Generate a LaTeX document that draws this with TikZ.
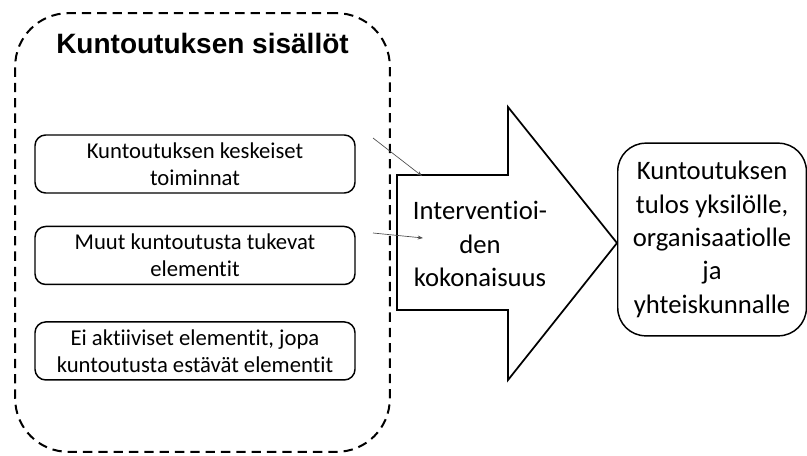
\documentclass[tikz,border=0pt]{standalone}
\usepackage{fontspec}
\setmainfont[Ligatures=NoCommon]{Carlito}
\newfontfamily\headfont{Liberation Sans}
\usetikzlibrary{arrows.meta, positioning}

\begin{document}
\begin{tikzpicture}[x=0.75pt, y=-0.75pt, node distance=24pt,
    frame/.style={draw, line width=1.5pt, dash pattern=on 7pt off 4.5pt, rounded corners=40pt, minimum width=281pt, minimum height=329pt},
    item/.style={draw, line width=1.1pt, rounded corners=8pt, minimum width=240pt, minimum height=43.5pt, align=center, inner sep=1pt, font=\fontsize{17}{20.25}\selectfont},
    result/.style={draw, line width=1.1pt, rounded corners=21pt, minimum width=141.5pt, minimum height=144.5pt, align=center, inner sep=1pt, font=\fontsize{20}{25}\selectfont},
    feed/.style={draw=black!70, line width=0.5pt, -{Stealth[length=4pt, width=3pt]}}]
    \useasboundingbox (0,0) rectangle (807,455);

    % Contents of rehabilitation
    \node[frame] (group) at (202.5,232.5) {};
    \node[font=\headfont\bfseries\fontsize{21}{24}\selectfont] (title) at (202.5,43) {Kuntoutuksen sisällöt};

    \node[item] (core) at (195,164) {Kuntoutuksen keskeiset\\toiminnat};
    \node[item, below=of core] (support) {Muut kuntoutusta tukevat\\elementit};
    \node[item, below=27pt of support] (passive) {Ei aktiiviset elementit, jopa\\kuntoutusta estävät elementit};

    % Big arrow
    \coordinate (tip) at (617,243);
    \draw[line width=1.3pt] (397,175) -- (508,175) -- (508,107) -- (tip) -- (508,380) -- (508,310) -- (397,310) -- cycle;
    \node[font=\fontsize{20}{25}\selectfont, align=center] (whole) at (480,244) {Interventioi-\\den\\kokonaisuus};

    % Outcome
    \node[result, anchor=west] (outcome) at (617,239.5) {Kuntoutuksen\\tulos yksilölle,\\organisaatiolle\\ja\\yhteiskunnalle};

    % Small connectors
    \coordinate (from1) at (373,138);
    \coordinate (to1) at (422,176);
    \coordinate (from2) at (373,233);
    \coordinate (to2) at (423,238);
    \draw[feed] (from1) -- (to1);
    \draw[feed] (from2) -- (to2);
\end{tikzpicture}
\end{document}
